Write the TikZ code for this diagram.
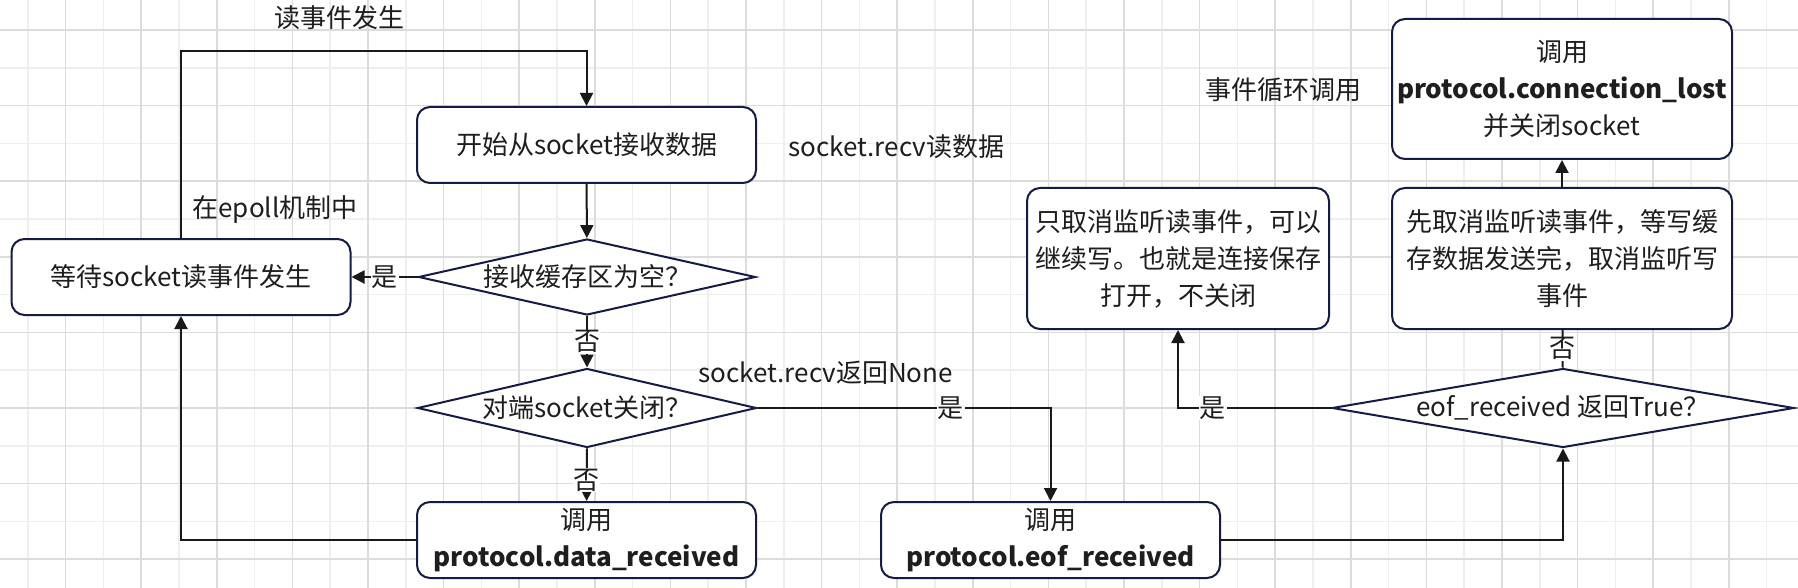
\documentclass[tikz,border=0pt]{standalone}
\usepackage{fontspec}
\setmainfont{Noto Sans CJK SC}
\usetikzlibrary{shapes.geometric,arrows.meta}
\definecolor{navy}{HTML}{161A46}
\definecolor{gridl}{HTML}{EFEFEF}
\definecolor{gridd}{HTML}{DCDCDC}
\definecolor{txt}{HTML}{1E1E1E}
\begin{document}
\begin{tikzpicture}[x=1pt,y=-1pt,
  every node/.style={font=\fontsize{26}{37}\selectfont, text=txt},
  box/.style={draw=navy, line width=2pt, fill=white, rounded corners=13pt, minimum width=339pt, minimum height=76pt, align=center, inner sep=0pt},
  dia/.style={draw=navy, line width=2pt, fill=white, diamond, inner sep=0pt},
  conn/.style={line width=2pt, draw=black!90, -{Triangle[length=13pt,width=13pt]}},
  plain/.style={line width=2pt, draw=black!90},
  lbl/.style={fill=white, inner sep=1pt},
  gl/.style={line width=1.6pt, draw=gridl},
  gd/.style={line width=1.6pt, draw=gridd},
]
\useasboundingbox (0,0) rectangle (1798,588);
\fill[white] (0,0) rectangle (1798,588);
% grid
\foreach \k in {0,2,...,46} { \draw[gl] ({27.7+37.8*\k},0) -- ({27.7+37.8*\k},588); }
\foreach \k in {1,3,...,13} { \draw[gl] (0,{30+37.8*\k}) -- (1798,{30+37.8*\k}); }
\foreach \k in {1,3,...,47} { \draw[gd] ({27.7+37.8*\k},0) -- ({27.7+37.8*\k},588); }
\foreach \k in {0,2,...,14} { \draw[gd] (0,{30+37.8*\k}) -- (1798,{30+37.8*\k}); }

% nodes
\node[box] (box1) at (586.5,145) {开始从socket接收数据};
\node[box] (wait) at (181,277) {等待socket读事件发生};
\node[dia, minimum width=337pt, minimum height=76pt] (d1) at (587,277) {};
\node at (d1) {接收缓存区为空？};
\node[dia, minimum width=339pt, minimum height=79pt] (d2) at (587,408) {};
\node at (d2) {对端socket关闭？};
\node[box] (data) at (586.5,540) {调用\\\textbf{protocol.data\_received}};
\node[box] (eof) at (1050.5,540) {调用\\\textbf{protocol.eof\_received}};
\node[dia, minimum width=462pt, minimum height=79pt] (d3) at (1563,408) {};
\node at (d3) {eof\_received 返回True？};
\node[box, minimum width=302pt, minimum height=141pt] (only) at (1178,258.5) {只取消监听读事件，可以\\继续写。也就是连接保存\\打开，不关闭};
\node[box, minimum width=340pt, minimum height=141pt] (first) at (1562,258.5) {先取消监听读事件，等写缓\\存数据发送完，取消监听写\\事件};
\node[box, minimum width=340pt, minimum height=140pt] (lost) at (1562,89) {调用\\\textbf{protocol.connection\_lost}\\并关闭socket};

% free labels
\node (t1) at (339,18) {读事件发生};
\node[anchor=west] (t2) at (785,147) {socket.recv读数据};
\node (t3) at (275,210) {在epoll机制中};
\node (t4) at (1283,90) {事件循环调用};
\node[anchor=west] (t5) at (695,373) {socket.recv返回None};

% connectors
\coordinate (topy) at (0,51);
\draw[conn] (wait.north) -- (wait.north |- topy) -| (box1.north);
\draw[conn] (box1) -- (d1);
\draw[conn] (d1) -- node[lbl]{是} (wait);
\draw[conn] (d1) -- node[lbl]{否} (d2);
\draw[conn] (d2) -- node[lbl, pos=0.6]{否} (data);
\draw[conn] (data.west) -| (wait.south);
\draw[conn] (d2.east) -| node[lbl, pos=0.33]{是} (eof.north);
\draw[conn] (eof.east) -| (d3.south);
\draw[conn] (d3.west) -| node[lbl, pos=0.386]{是} (only.south);
\draw[plain] (d3) -- node[lbl]{否} (first);
\draw[conn] (first) -- (lost);
\end{tikzpicture}
\end{document}
